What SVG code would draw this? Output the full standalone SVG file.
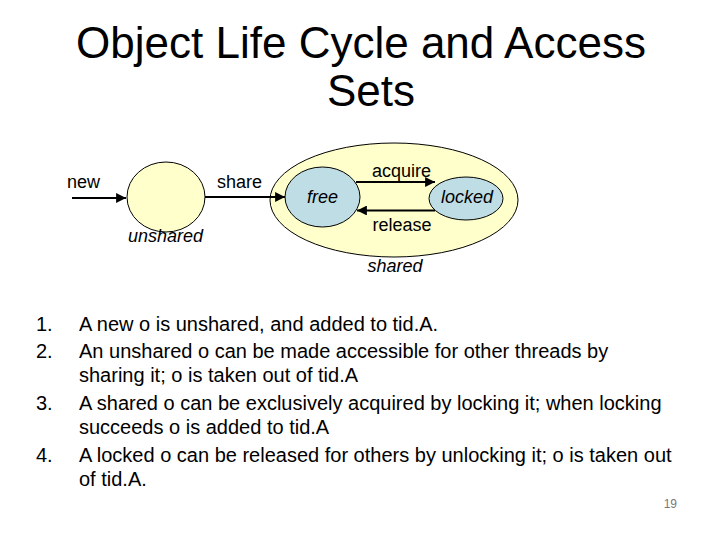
<svg xmlns="http://www.w3.org/2000/svg" width="720" height="540" viewBox="0 0 720 540">
<style>
text{font-family:"Liberation Sans",Arial,sans-serif;fill:#000}
.title{font-size:44px}
.lbl{font-size:18px}
.it{font-size:18px;font-style:italic}
.body{font-size:20px}
.pg{font-size:12px;fill:#777}
.st{stroke:#000;stroke-width:1}
.ar{stroke:#000;stroke-width:2.2;fill:none}
</style>
<defs>
<marker id="ah" viewBox="0 0 10 10" refX="10" refY="5" markerWidth="5" markerHeight="4.5" markerUnits="strokeWidth" orient="auto">
<path d="M0,0 L10,5 L0,10 z" fill="#000"/>
</marker>
</defs>
<rect width="720" height="540" fill="#fff"/>
<g id="title">
<text class="title" x="361" y="58" text-anchor="middle">Object Life Cycle and Access</text>
<text class="title" x="371" y="106" text-anchor="middle">Sets</text>
</g>
<g id="shared">
<ellipse cx="394" cy="200" rx="124" ry="57" fill="#FFFFCC" class="st"/>
<text class="it" x="395" y="272" text-anchor="middle">shared</text>
</g>
<g id="unshared">
<ellipse cx="166" cy="197" rx="39" ry="35" fill="#FFFFCC" class="st"/>
<text class="it" x="165.5" y="242" text-anchor="middle">unshared</text>
</g>
<g id="free">
<ellipse cx="322.5" cy="197" rx="37.5" ry="30" fill="#BFDDE4" class="st"/>
<text class="it" x="322.5" y="203" text-anchor="middle">free</text>
</g>
<g id="locked">
<ellipse cx="466" cy="198.5" rx="37" ry="21.5" fill="#BFDDE4" class="st"/>
<text class="it" x="467" y="203" text-anchor="middle">locked</text>
</g>
<g id="connectors">
<line x1="72" y1="198" x2="126" y2="198" class="ar" marker-end="url(#ah)"/>
<line x1="205" y1="197" x2="285" y2="197" class="ar" marker-end="url(#ah)"/>
<line x1="356" y1="182" x2="435" y2="182" class="ar" marker-end="url(#ah)"/>
<line x1="435" y1="210.5" x2="357" y2="210.5" class="ar" marker-end="url(#ah)"/>
<text class="lbl" x="67" y="188">new</text>
<text class="lbl" x="217" y="188">share</text>
<text class="lbl" x="401.5" y="177" text-anchor="middle">acquire</text>
<text class="lbl" x="402" y="231" text-anchor="middle">release</text>
</g>
<g id="body">
<text class="body" x="36" y="331">1.</text>
<text class="body" x="79" y="331">A new o is unshared, and added to tid.A.</text>
<text class="body" x="36" y="358">2.</text>
<text class="body" x="79" y="358">An unshared o can be made accessible for other threads by</text>
<text class="body" x="79" y="382">sharing it; o is taken out of tid.A</text>
<text class="body" x="36" y="410">3.</text>
<text class="body" x="79" y="410">A shared o can be exclusively acquired by locking it; when locking</text>
<text class="body" x="79" y="434">succeeds o is added to tid.A</text>
<text class="body" x="36" y="462">4.</text>
<text class="body" x="79" y="462">A locked o can be released for others by unlocking it; o is taken out</text>
<text class="body" x="79" y="486">of tid.A.</text>
</g>
<text class="pg" x="677" y="508" text-anchor="end">19</text>
</svg>
